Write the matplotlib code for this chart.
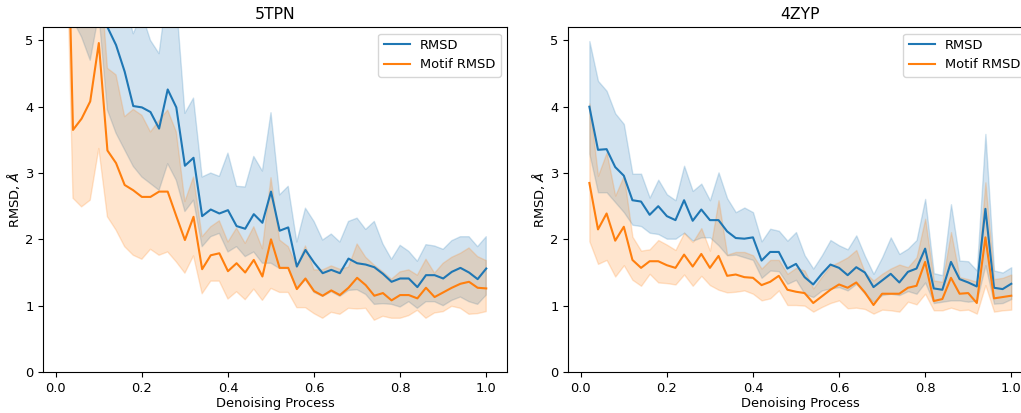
import numpy as np
import matplotlib
matplotlib.use("Agg")
import matplotlib.pyplot as plt

plt.rcParams['font.size'] = 9.4

# denoising steps
steps = np.round(np.arange(1, 51) * 0.02, 2)

# 5TPN
tpn_rmsd = [9.5, 7.5, 6.8, 6.2, 5.9, 5.2, 4.93, 4.53, 4.01, 3.99, 3.92, 3.67, 4.26, 3.99, 3.11, 3.23,
            2.35, 2.45, 2.39, 2.44, 2.20, 2.16, 2.38, 2.25, 2.72, 2.13, 2.18, 1.59, 1.84, 1.65, 1.49, 1.54,
            1.49, 1.71, 1.64, 1.62, 1.58, 1.48, 1.36, 1.41, 1.41, 1.28, 1.46, 1.46, 1.41, 1.51, 1.57, 1.50,
            1.40, 1.56]
tpn_rmsd_lo = [8.0, 5.3, 5.05, 4.70, 5.4, 3.95, 3.6, 3.35, 3.1, 2.94, 2.84, 2.74, 3.14, 2.89, 2.42, 2.59,
               1.89, 2.04, 2.09, 1.81, 1.89, 1.74, 1.81, 1.64, 1.64, 1.56, 1.56, 1.26, 1.39, 1.20, 1.14, 1.21,
               1.14, 1.23, 1.24, 1.17, 1.02, 1.03, 1.02, 0.98, 1.06, 0.96, 1.06, 1.06, 1.00, 1.08, 1.13, 1.06,
               1.02, 1.16]
tpn_rmsd_hi = [11.0, 9.0, 8.5, 8.0, 7.5, 7.0, 6.5, 5.6, 5.1, 5.4, 5.0, 4.8, 5.8, 5.6, 3.9, 4.13,
               2.94, 3.0, 2.95, 3.30, 2.80, 2.79, 3.25, 3.03, 3.91, 2.67, 2.80, 1.96, 2.47, 2.27, 1.99, 2.08,
               1.96, 2.27, 2.32, 2.15, 2.27, 1.93, 1.70, 1.91, 1.82, 1.67, 1.92, 1.90, 1.85, 1.98, 2.04, 2.04,
               1.89, 2.04]
tpn_motif = [9.0, 3.65, 3.82, 4.08, 4.96, 3.34, 3.15, 2.82, 2.74, 2.64, 2.64, 2.72, 2.72, 2.35, 1.99, 2.34,
             1.55, 1.76, 1.79, 1.52, 1.64, 1.50, 1.69, 1.44, 2.00, 1.57, 1.57, 1.25, 1.41, 1.22, 1.15, 1.23,
             1.16, 1.27, 1.42, 1.31, 1.15, 1.19, 1.08, 1.16, 1.16, 1.11, 1.27, 1.13, 1.20, 1.27, 1.33, 1.36,
             1.27, 1.26]
tpn_motif_lo = [8.0, 2.62, 2.49, 2.59, 3.37, 2.34, 2.14, 1.89, 1.76, 1.70, 1.85, 1.76, 1.81, 1.66, 1.49, 1.75,
                1.18, 1.37, 1.37, 1.10, 1.21, 1.09, 1.25, 1.08, 1.26, 1.20, 1.20, 0.97, 0.97, 0.88, 0.81, 0.90,
                0.87, 0.96, 0.95, 0.96, 0.78, 0.84, 0.81, 0.81, 0.85, 0.93, 0.81, 0.89, 0.91, 0.99, 0.96, 0.87,
                0.88, 0.91]
tpn_motif_hi = [10.0, 5.6, 5.4, 5.5, 6.3, 4.58, 4.48, 3.85, 3.96, 3.87, 3.62, 3.79, 3.95, 3.62, 2.57, 2.94,
                2.04, 2.19, 2.28, 1.96, 2.17, 1.94, 2.19, 1.86, 2.93, 1.99, 1.89, 1.59, 1.90, 1.54, 1.54, 1.60,
                1.55, 1.58, 1.93, 1.73, 1.61, 1.51, 1.40, 1.51, 1.54, 1.46, 1.70, 1.49, 1.64, 1.73, 1.79, 1.87,
                1.74, 1.68]

# 4ZYP
zyp_rmsd = [4.00, 3.35, 3.36, 3.09, 2.96, 2.59, 2.57, 2.37, 2.50, 2.35, 2.29, 2.59, 2.28, 2.45, 2.29, 2.29,
            2.12, 2.02, 2.01, 2.03, 1.68, 1.81, 1.81, 1.56, 1.63, 1.43, 1.32, 1.48, 1.62, 1.57, 1.46, 1.58,
            1.50, 1.28, 1.38, 1.48, 1.35, 1.51, 1.56, 1.86, 1.26, 1.24, 1.66, 1.40, 1.35, 1.29, 2.46, 1.27,
            1.25, 1.33]
zyp_rmsd_lo = [3.29, 2.71, 2.71, 2.56, 2.41, 2.22, 2.20, 2.10, 2.08, 2.01, 2.01, 2.10, 1.98, 2.03, 2.03, 1.91,
               1.76, 1.77, 1.73, 1.69, 1.42, 1.53, 1.52, 1.33, 1.39, 1.18, 1.13, 1.23, 1.26, 1.28, 1.23, 1.33,
               1.18, 1.06, 1.16, 1.18, 1.16, 1.22, 1.18, 1.35, 1.04, 1.06, 1.08, 1.08, 1.06, 1.08, 1.61, 1.03,
               1.04, 1.10]
zyp_rmsd_hi = [4.99, 4.39, 4.24, 3.90, 3.74, 2.99, 2.99, 2.63, 2.90, 2.68, 2.59, 3.11, 2.73, 2.84, 2.59, 3.01,
               2.62, 2.41, 2.48, 2.41, 1.97, 2.16, 2.13, 1.98, 2.11, 1.76, 1.56, 1.76, 1.99, 1.91, 1.85, 2.06,
               1.75, 1.48, 1.73, 2.03, 1.78, 1.86, 1.99, 2.61, 1.49, 1.46, 2.53, 1.68, 1.67, 1.53, 3.59, 1.53,
               1.50, 1.58]
zyp_motif = [2.85, 2.15, 2.39, 1.98, 2.19, 1.69, 1.57, 1.67, 1.67, 1.61, 1.57, 1.77, 1.59, 1.78, 1.57, 1.75,
             1.45, 1.47, 1.43, 1.42, 1.31, 1.36, 1.45, 1.24, 1.21, 1.19, 1.04, 1.14, 1.24, 1.32, 1.27, 1.35,
             1.20, 1.01, 1.18, 1.18, 1.18, 1.27, 1.30, 1.66, 1.07, 1.10, 1.42, 1.18, 1.19, 1.04, 2.03, 1.11,
             1.13, 1.15]
zyp_motif_lo = [1.97, 1.63, 1.69, 1.44, 1.61, 1.39, 1.30, 1.48, 1.35, 1.34, 1.32, 1.47, 1.30, 1.45, 1.31, 1.24,
                1.20, 1.21, 1.23, 1.18, 1.08, 1.11, 1.23, 1.01, 1.01, 1.00, 0.91, 0.98, 1.04, 1.08, 0.96, 0.97,
                0.95, 0.88, 0.94, 0.93, 0.91, 1.06, 1.02, 1.18, 0.93, 0.93, 0.97, 0.93, 0.94, 0.88, 1.31, 0.91,
                0.93, 0.94]
zyp_motif_hi = [4.05, 2.96, 3.31, 2.66, 2.96, 2.04, 1.83, 1.85, 1.99, 1.92, 1.84, 2.10, 1.96, 2.17, 1.83, 2.59,
                1.77, 1.81, 1.81, 1.76, 1.56, 1.69, 1.69, 1.48, 1.57, 1.53, 1.26, 1.44, 1.60, 1.66, 1.73, 1.84,
                1.50, 1.38, 1.48, 1.56, 1.62, 1.58, 1.73, 2.31, 1.38, 1.36, 2.11, 1.43, 1.40, 1.36, 2.86, 1.40,
                1.42, 1.47]

panels = [
    ("5TPN", tpn_rmsd, tpn_rmsd_lo, tpn_rmsd_hi, tpn_motif, tpn_motif_lo, tpn_motif_hi),
    ("4ZYP", zyp_rmsd, zyp_rmsd_lo, zyp_rmsd_hi, zyp_motif, zyp_motif_lo, zyp_motif_hi),
]

fig = plt.figure(figsize=(10.21, 4.13), dpi=100)
# second panel runs past the right edge, like the cropped original
axes = [fig.add_axes([0.0424, 0.0993, 0.4545, 0.835]),
        fig.add_axes([0.5566, 0.0993, 0.4545, 0.835])]

for ax, (name, r, rlo, rhi, m, mlo, mhi) in zip(axes, panels):
    ax.plot(steps, r, color="tab:blue", label="RMSD")
    ax.fill_between(steps, rlo, rhi, color="tab:blue", alpha=0.2)
    ax.plot(steps, m, color="tab:orange", label="Motif RMSD")
    ax.fill_between(steps, mlo, mhi, color="tab:orange", alpha=0.2)
    ax.set_ylim(0, 5.2)
    ax.set_title(name)
    ax.set_xlabel("Denoising Process", labelpad=2)
    ax.set_ylabel(r"RMSD, $\AA$", labelpad=2)
    ax.legend(loc="upper right")

fig.savefig("out.png", dpi=100)
